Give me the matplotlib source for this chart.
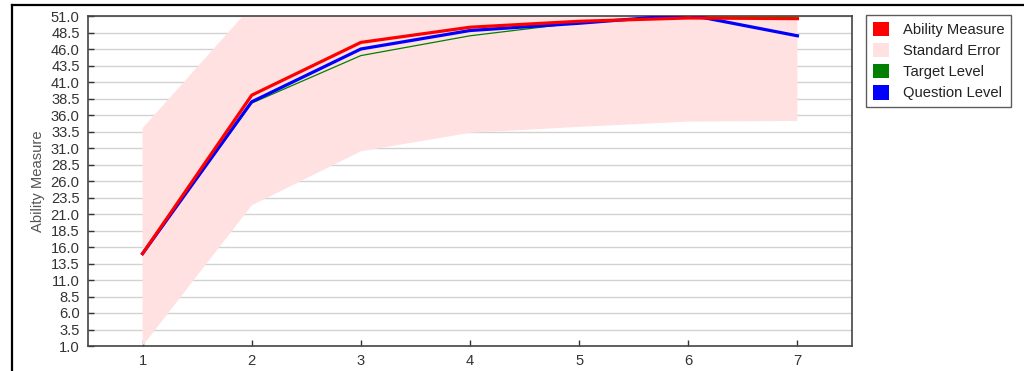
import matplotlib
matplotlib.use("Agg")
import matplotlib.pyplot as plt
from matplotlib.patches import Patch
from matplotlib.lines import Line2D
import numpy as np

plt.rcParams['font.family'] = ['Liberation Sans', 'DejaVu Sans']

steps = [1, 2, 3, 4, 5, 6, 7]
ability = [15.0, 39.0, 47.0, 49.3, 50.2, 50.7, 50.6]
question = [15.0, 38.0, 46.0, 48.8, 49.9, 51.2, 48.0]
target = [15.0, 37.8, 45.0, 48.0, 50.0, 51.0, 51.0]
se_upper = [34.0, 52.5, 63.5, 65.3, 66.2, 66.6, 66.1]
se_lower = [1.0, 22.3, 30.5, 33.3, 34.2, 35.0, 35.1]

yticks = np.arange(1.0, 51.01, 2.5)
legend_labels = ["Ability Measure", "Standard Error", "Target Level", "Question Level"]

W, H = 1024, 371
fs = 10.6
fig = plt.figure(figsize=(W / 100, H / 100), dpi=100)
ax = fig.add_axes([88 / W, 1 - 346 / H, (852 - 88) / W, (346 - 16) / H])

band_color = "#ffe1e1"
ax.fill_between(steps, se_lower, se_upper, color=band_color, lw=0, zorder=1)
ax.plot(steps, target, color="#008000", lw=0.9, zorder=3)
ax.plot(steps, question, color="#0000ff", lw=2.3, zorder=4)
ax.plot(steps, ability, color="#ff0000", lw=2.3, zorder=5)

ax.set_xlim(0.5, 7.5)
ax.set_ylim(1.0, 51.0)
ax.set_yticks(yticks)
ax.set_yticklabels([f"{v:.1f}" for v in yticks])
ax.set_xticks(steps)
ax.set_xticklabels([str(s) for s in steps])
ax.grid(axis="y", color="#d2d2d2", lw=1.0, zorder=0)
ax.set_axisbelow(True)
ax.tick_params(direction="in", length=4, width=1, color="#333333",
               labelsize=fs, labelcolor="#333333")
ax.tick_params(axis="y", pad=6)
ax.tick_params(axis="x", pad=6)
for s in ax.spines.values():
    s.set_color("#444444")
    s.set_linewidth(1.2)
ax.set_ylabel("Ability Measure", fontsize=fs, color="#555555", labelpad=4)

handles = [Patch(facecolor=c, edgecolor="none") for c in
           ["#ff0000", band_color, "#008000", "#0000ff"]]
leg = fig.legend(handles, legend_labels, loc="upper left",
                 bbox_to_anchor=(866 / W, 1 - 15 / H), fontsize=fs,
                 handlelength=1.1, handleheight=1.1, handletextpad=0.95,
                 labelspacing=0.42, borderpad=0.45, borderaxespad=0,
                 fancybox=False, frameon=True)
leg.get_frame().set_edgecolor("#333333")
leg.get_frame().set_linewidth(1.0)
for t in leg.get_texts():
    t.set_color("#222222")

# outer frame
fig.add_artist(Line2D([12 / W, 12 / W], [0, 1 - 5 / H], transform=fig.transFigure,
                      color="black", lw=1.6))
fig.add_artist(Line2D([12 / W, 1], [1 - 5 / H, 1 - 5 / H], transform=fig.transFigure,
                      color="black", lw=1.6))

fig.savefig("out.png", dpi=100)
